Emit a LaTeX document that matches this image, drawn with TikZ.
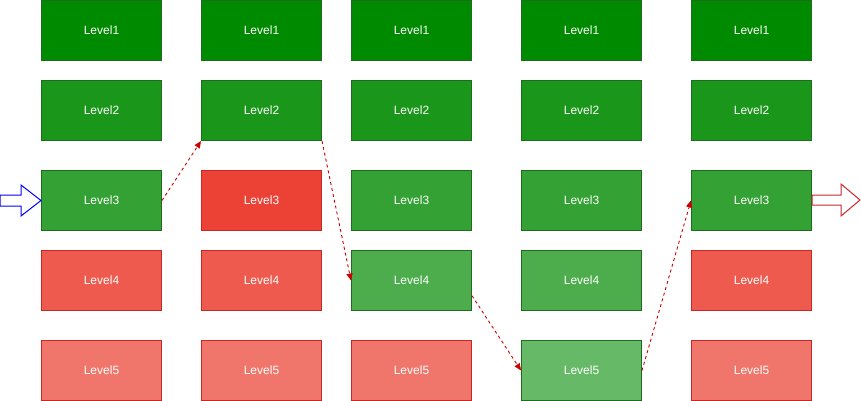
\documentclass[tikz,border=0pt]{standalone}
\usepackage{fontspec}
\setmainfont{Liberation Sans}
\usetikzlibrary{arrows.meta,calc}
\definecolor{gA}{HTML}{008A00}
\definecolor{gB}{HTML}{1A961A}
\definecolor{gC}{HTML}{33A133}
\definecolor{gD}{HTML}{4DAD4D}
\definecolor{gE}{HTML}{66B966}
\definecolor{rC}{HTML}{EC4235}
\definecolor{rD}{HTML}{EE5A4E}
\definecolor{rE}{HTML}{F0756A}
\definecolor{gS}{HTML}{1F6B1F}
\definecolor{rS}{HTML}{C62828}
\definecolor{lnk}{HTML}{CC0000}
\tikzset{
  lvl/.style={minimum width=120pt,minimum height=60pt,inner sep=0pt,line width=1pt,
    text=white,font=\fontsize{12}{14}\selectfont,anchor=north west},
  gbox/.style={lvl,fill=#1,draw=gS},
  rbox/.style={lvl,fill=#1,draw=rS},
  link/.style={draw=lnk,line width=0.9pt,dash pattern=on 3pt off 3pt,
    -{Triangle[length=7pt,width=6pt]}},
}
\begin{document}
\begin{tikzpicture}[x=1pt,y=-1pt]
\useasboundingbox (0,0) rectangle (861,401);
% column 1
\node[gbox=gA] (a1) at (41,0) {Level1};
\node[gbox=gB] (a2) at (41,80) {Level2};
\node[gbox=gC] (a3) at (41,170) {Level3};
\node[rbox=rD] (a4) at (41,250) {Level4};
\node[rbox=rE] (a5) at (41,340) {Level5};
% column 2
\node[gbox=gA] (b1) at (201,0) {Level1};
\node[gbox=gB] (b2) at (201,80) {Level2};
\node[rbox=rC] (b3) at (201,170) {Level3};
\node[rbox=rD] (b4) at (201,250) {Level4};
\node[rbox=rE] (b5) at (201,340) {Level5};
% column 3
\node[gbox=gA] (c1) at (351,0) {Level1};
\node[gbox=gB] (c2) at (351,80) {Level2};
\node[gbox=gC] (c3) at (351,170) {Level3};
\node[gbox=gD] (c4) at (351,250) {Level4};
\node[rbox=rE] (c5) at (351,340) {Level5};
% column 4
\node[gbox=gA] (d1) at (521,0) {Level1};
\node[gbox=gB] (d2) at (521,80) {Level2};
\node[gbox=gC] (d3) at (521,170) {Level3};
\node[gbox=gD] (d4) at (521,250) {Level4};
\node[gbox=gE] (d5) at (521,340) {Level5};
% column 5
\node[gbox=gA] (e1) at (691,0) {Level1};
\node[gbox=gB] (e2) at (691,80) {Level2};
\node[gbox=gC] (e3) at (691,170) {Level3};
\node[rbox=rD] (e4) at (691,250) {Level4};
\node[rbox=rE] (e5) at (691,340) {Level5};
% block arrows
\draw[draw=blue,fill=white,line width=1pt,line join=miter]
  (0,195) -- (21,195) -- (21,185) -- (a3.west) -- (21,216) -- (21,206) -- (0,206) -- cycle;
\draw[draw=rS,fill=white,line width=1pt,line join=miter]
  (e3.east |- 0,195) -- (841,195) -- (841,184) -- (860,200) -- (841,216) -- (841,205) -- (e3.east |- 0,205) -- cycle;
% path links
\draw[link] (a3.east) -- (b2.south west);
\draw[link] (b2.south east) -- (c4.west);
\draw[link] ($(c4.south east)!0.25!(c4.north east)$) -- (d5.west);
\draw[link] (d5.east) -- (e3.west);
\end{tikzpicture}
\end{document}
